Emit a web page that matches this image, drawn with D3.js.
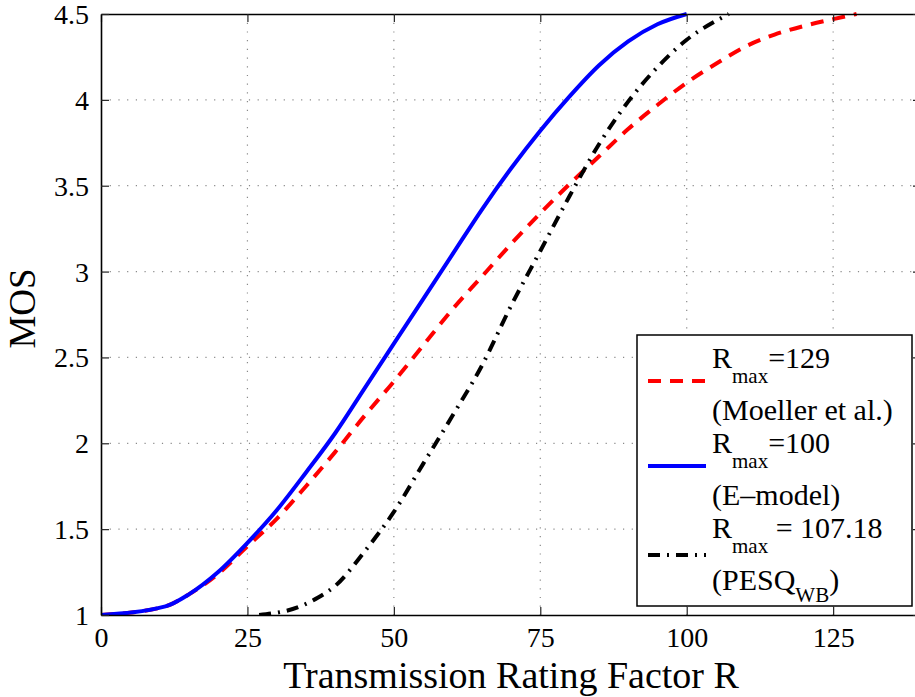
<!DOCTYPE html>
<html>
<head>
<meta charset="utf-8">
<script src="https://cdn.jsdelivr.net/npm/d3@7"></script>
<style>
  html, body { margin: 0; padding: 0; background: #fff; }
  svg { display: block; }
</style>
</head>
<body>
<svg id="chart" width="915" height="697"></svg>
<script>
// ---- data ----
const xTickValues = [0, 25, 50, 75, 100, 125];
const yTickValues = [1, 1.5, 2, 2.5, 3, 3.5, 4, 4.5];
const yTickLabels = ["1", "1.5", "2", "2.5", "3", "3.5", "4", "4.5"];

// Rmax = 129 (Moeller et al.)
const moellerR   = [0, 11, 15, 20, 25, 30, 35, 40, 45, 50, 55, 60, 65, 70, 75, 80, 85, 90, 95, 100, 105, 110, 115, 120, 125, 129];
const moellerMOS = [1.0, 1.05, 1.12, 1.24, 1.40, 1.56, 1.75, 1.95, 2.16, 2.36, 2.57, 2.78, 2.97, 3.16, 3.34, 3.51, 3.67, 3.83, 3.97, 4.10, 4.21, 4.31, 4.38, 4.43, 4.47, 4.5];

// Rmax = 100 (E-model)
const emodelR   = [0, 11, 15, 20, 25, 30, 35, 40, 45, 50, 55, 60, 65, 70, 75, 80, 85, 90, 95, 100];
const emodelMOS = [1.0, 1.05, 1.12, 1.25, 1.42, 1.61, 1.83, 2.06, 2.32, 2.58, 2.84, 3.10, 3.36, 3.60, 3.82, 4.02, 4.20, 4.34, 4.44, 4.5];

// Rmax = 107.18 (PESQ_WB)
const pesqR   = [27, 34, 37, 40, 45, 50, 55, 60, 65, 70, 75, 80, 85, 90, 95, 100, 105, 107.18];
const pesqMOS = [1.0, 1.05, 1.10, 1.17, 1.37, 1.60, 1.88, 2.16, 2.45, 2.80, 3.12, 3.44, 3.74, 3.99, 4.19, 4.35, 4.46, 4.5];

const seriesNames = ["Moeller", "E-model", "PESQ"];
const legendTop    = ["=129", "=100", " = 107.18"];
const legendBottom = ["(Moeller et al.)", "(E\u2013model)", "(PESQ"];

// ---- layout ----
const FONT = "'Liberation Serif', Tinos, 'Nimbus Roman', FreeSerif, 'Noto Serif', 'DejaVu Serif', serif";
const svg = d3.select("#chart");
const pL = 101, pR = 921, pT = 14, pB = 615;

const x = d3.scaleLinear().domain([0, 140]).range([pL, pR]);
const y = d3.scaleLinear().domain([1, 4.5]).range([pB, pT]);

svg.append("rect").attr("width", 915).attr("height", 697).attr("fill", "#fff");

// grid
const grid = svg.append("g").attr("stroke", "#8a8a8a").attr("stroke-width", 1.2)
  .attr("stroke-dasharray", "1.2,7.5");
grid.selectAll("line.v").data(xTickValues.filter(d => d > 0)).enter().append("line")
  .attr("x1", d => x(d)).attr("x2", d => x(d)).attr("y1", pT).attr("y2", pB);
grid.selectAll("line.h").data(yTickValues.filter(d => d > 1 && d < 4.5)).enter().append("line")
  .attr("y1", d => y(d)).attr("y2", d => y(d)).attr("x1", pL).attr("x2", pR);

// curves
const lineGen = d3.line().x(d => x(d[0])).y(d => y(d[1])).curve(d3.curveMonotoneX);
const styles = [
  {color: "#ff0000", dash: "13,9"},
  {color: "#0000ff", dash: null},
  {color: "#000000", dash: "12,7,2,7"}
];
const seriesData = [
  d3.zip(moellerR, moellerMOS),
  d3.zip(emodelR, emodelMOS),
  d3.zip(pesqR, pesqMOS)
];
svg.append("defs").append("clipPath").attr("id", "clip")
  .append("rect").attr("x", pL).attr("y", pT - 2).attr("width", pR - pL).attr("height", pB - pT + 2);

seriesData.forEach((data, i) => {
  svg.append("path")
    .datum(data)
    .attr("clip-path", "url(#clip)")
    .attr("fill", "none")
    .attr("stroke", styles[i].color)
    .attr("stroke-width", 4)
    .attr("stroke-dasharray", styles[i].dash)
    .attr("d", lineGen);
});

// axes (MATLAB box style, ticks inside)
const axB = d3.axisBottom(x).tickValues(xTickValues).tickSizeInner(-8).tickSizeOuter(0).tickPadding(12);
const axT = d3.axisTop(x).tickValues(xTickValues).tickSizeInner(-8).tickSizeOuter(0).tickFormat("");
const axL = d3.axisLeft(y).tickValues(yTickValues).tickSizeInner(-8).tickSizeOuter(0).tickPadding(12)
  .tickFormat((d, i) => yTickLabels[i]);
const axR = d3.axisRight(y).tickValues(yTickValues).tickSizeInner(-8).tickSizeOuter(0).tickFormat("");

function styleAxis(g) {
  g.attr("font-family", FONT);
  g.select(".domain").attr("stroke", "#000").attr("stroke-width", 1.6);
  g.selectAll(".tick line").attr("stroke", "#222").attr("stroke-width", 1.2);
  g.selectAll(".tick text").attr("font-family", FONT).attr("font-size", 28).attr("fill", "#000");
}
svg.append("g").attr("transform", `translate(0,${pB})`).call(axB).call(styleAxis);
svg.append("g").attr("transform", `translate(0,${pT})`).call(axT).call(styleAxis);
svg.append("g").attr("transform", `translate(${pL},0)`).call(axL).call(styleAxis)
  .selectAll(".tick text").attr("dy", "0.34em");
svg.append("g").attr("transform", `translate(${pR},0)`).call(axR).call(styleAxis);

// axis labels
svg.append("text").attr("x", (pL + pR) / 2).attr("y", 688)
  .attr("font-family", FONT)
  .attr("text-anchor", "middle").attr("font-size", 38).text("Transmission Rating Factor R");
svg.append("text").attr("transform", `translate(35,${(pT + pB) / 2 - 6}) rotate(-90)`)
  .attr("font-family", FONT)
  .attr("text-anchor", "middle").attr("font-size", 37).text("MOS");

// legend
const lg = svg.append("g").attr("font-family", FONT);
lg.append("rect").attr("x", 637).attr("y", 335).attr("width", 275).attr("height", 271)
  .attr("fill", "#fff").attr("stroke", "#000").attr("stroke-width", 1.5);

const entryGap = 85;
seriesNames.forEach((name, i) => {
  const base = 368 + i * entryGap;
  const ly = base + 13 + (i === 2 ? 4 : 0);
  lg.append("line")
    .attr("x1", 648).attr("x2", 706)
    .attr("y1", ly).attr("y2", ly)
    .attr("stroke", styles[i].color).attr("stroke-width", 4)
    .attr("stroke-dasharray", styles[i].dash);
  const t1 = lg.append("text").attr("x", 712).attr("y", base).attr("font-size", 30);
  t1.append("tspan").text("R");
  t1.append("tspan").attr("dy", 15).attr("font-size", 21).text("max");
  t1.append("tspan").attr("dy", -15).text(legendTop[i]);
  const t2 = lg.append("text").attr("x", 712).attr("y", base + 52).attr("font-size", 30);
  t2.append("tspan").text(legendBottom[i]);
  if (i === 2) {
    t2.append("tspan").attr("dy", 12).attr("font-size", 21).text("WB");
    t2.append("tspan").attr("dy", -12).text(")");
  }
});
</script>
</body>
</html>
